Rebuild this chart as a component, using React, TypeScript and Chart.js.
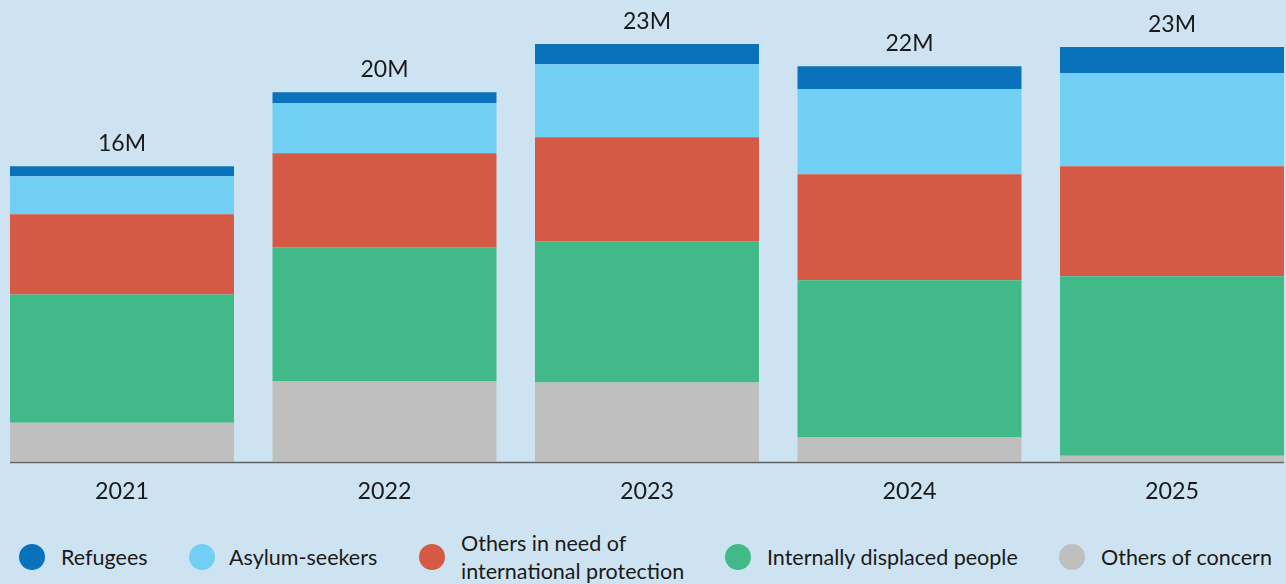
import React, { useEffect, useRef } from "react";
import { Chart, registerables } from "chart.js";

Chart.register(...registerables);

// ---- data (millions) ----
const categories = ["2021", "2022", "2023", "2024", "2025"];
const othersOfConcern = [2.14, 4.4, 4.34, 1.32, 0.33];
const internallyDisplaced = [7.03, 7.36, 7.75, 8.63, 9.84];
const othersInNeed = [4.4, 5.16, 5.71, 5.82, 6.04];
const asylumSeekers = [2.09, 2.75, 4.01, 4.67, 5.11];
const refugees = [0.55, 0.6, 1.1, 1.26, 1.43];

const seriesNames = [
  "Others of concern",
  "Internally displaced people",
  "Others in need of international protection",
  "Asylum-seekers",
  "Refugees",
];
const seriesColors = ["#bfbfbf", "#42b988", "#d45a46", "#72cff4", "#0a72ba"];

const legendItems = [
  { lines: ["Refugees"], color: "#0a72ba", cx: 32, tx: 61 },
  { lines: ["Asylum-seekers"], color: "#72cff4", cx: 201.5, tx: 229 },
  { lines: ["Others in need of", "international protection"], color: "#d45a46", cx: 432, tx: 461 },
  { lines: ["Internally displaced people"], color: "#42b988", cx: 738, tx: 767 },
  { lines: ["Others of concern"], color: "#bfbfbf", cx: 1072, tx: 1101 },
];

const BG = "#cee3f1";
const FONT = "Lato, 'Noto Sans', sans-serif";

const totalsPlugin = {
  id: "totals",
  afterDatasetsDraw(chart: any) {
    const ctx = chart.ctx;
    const n = chart.data.datasets.length;
    const topMeta = chart.getDatasetMeta(n - 1);
    const firstMeta = chart.getDatasetMeta(0);
    ctx.save();
    // totals above bars
    ctx.font = `23px ${FONT}`;
    ctx.fillStyle = "#1a1a1a";
    ctx.textAlign = "center";
    ctx.textBaseline = "alphabetic";
    topMeta.data.forEach((el: any, i: number) => {
      let total = 0;
      chart.data.datasets.forEach((ds: any) => (total += ds.data[i]));
      ctx.fillText(`${Math.round(total)}M`, el.x, el.y - 15.5);
    });
    // baseline axis line
    const first = firstMeta.data[0] as any;
    const last = firstMeta.data[firstMeta.data.length - 1] as any;
    const y = chart.chartArea.bottom + 0.75;
    ctx.strokeStyle = "#5f6366";
    ctx.lineWidth = 1.5;
    ctx.beginPath();
    ctx.moveTo(first.x - first.width / 2, y);
    ctx.lineTo(last.x + last.width / 2, y);
    ctx.stroke();
    ctx.restore();
  },
};

function StackedChart() {
  const ref = useRef<HTMLCanvasElement | null>(null);
  useEffect(() => {
    if (!ref.current) return;
    const seriesData = [othersOfConcern, internallyDisplaced, othersInNeed, asylumSeekers, refugees];
    const chart = new Chart(ref.current, {
      type: "bar",
      data: {
        labels: categories,
        datasets: seriesData.map((d, i) => ({
          label: seriesNames[i],
          data: d,
          backgroundColor: seriesColors[i],
          borderWidth: 0,
          categoryPercentage: 0.8533,
          barPercentage: 1,
        })),
      },
      options: {
        responsive: false,
        animation: false,
        layout: { padding: { left: 10.75, right: 2.75, top: 6, bottom: 0 } },
        plugins: { legend: { display: false }, tooltip: { enabled: false } },
        scales: {
          x: {
            stacked: true,
            offset: true,
            grid: { display: false, drawTicks: false },
            border: { display: false },
            ticks: {
              padding: 15.7,
              color: "#1a1a1a",
              font: { family: FONT, size: 23.3 },
            },
          },
          y: {
            stacked: true,
            display: false,
            min: 0,
            max: 25,
          },
        },
      },
      plugins: [totalsPlugin],
    });
    return () => chart.destroy();
  }, []);
  return (
    <canvas
      ref={ref}
      width={1326}
      height={521}
      style={{ position: "absolute", left: -20, top: 0, width: 1326, height: 521 }}
    />
  );
}

export default function App() {
  return (
    <div
      style={{
        position: "fixed",
        left: 0,
        top: 0,
        width: 1286,
        height: 584,
        background: BG,
        overflow: "hidden",
        fontFamily: FONT,
      }}
    >
      <StackedChart />
      {legendItems.map((it, i) => {
        const lineH = 28;
        const top = 557 - 14.3 - ((it.lines.length - 1) * lineH) / 2;
        return (
          <React.Fragment key={i}>
            <div
              style={{
                position: "absolute",
                left: it.cx - 13,
                top: 557 - 13,
                width: 26,
                height: 26,
                borderRadius: "50%",
                background: it.color,
              }}
            />
            <div
              style={{
                position: "absolute",
                left: it.tx,
                top,
                fontSize: 21.5,
                lineHeight: `${lineH}px`,
                color: "#1a1a1a",
                whiteSpace: "nowrap",
              }}
            >
              {it.lines.map((l, j) => (
                <div key={j}>{l}</div>
              ))}
            </div>
          </React.Fragment>
        );
      })}
    </div>
  );
}
